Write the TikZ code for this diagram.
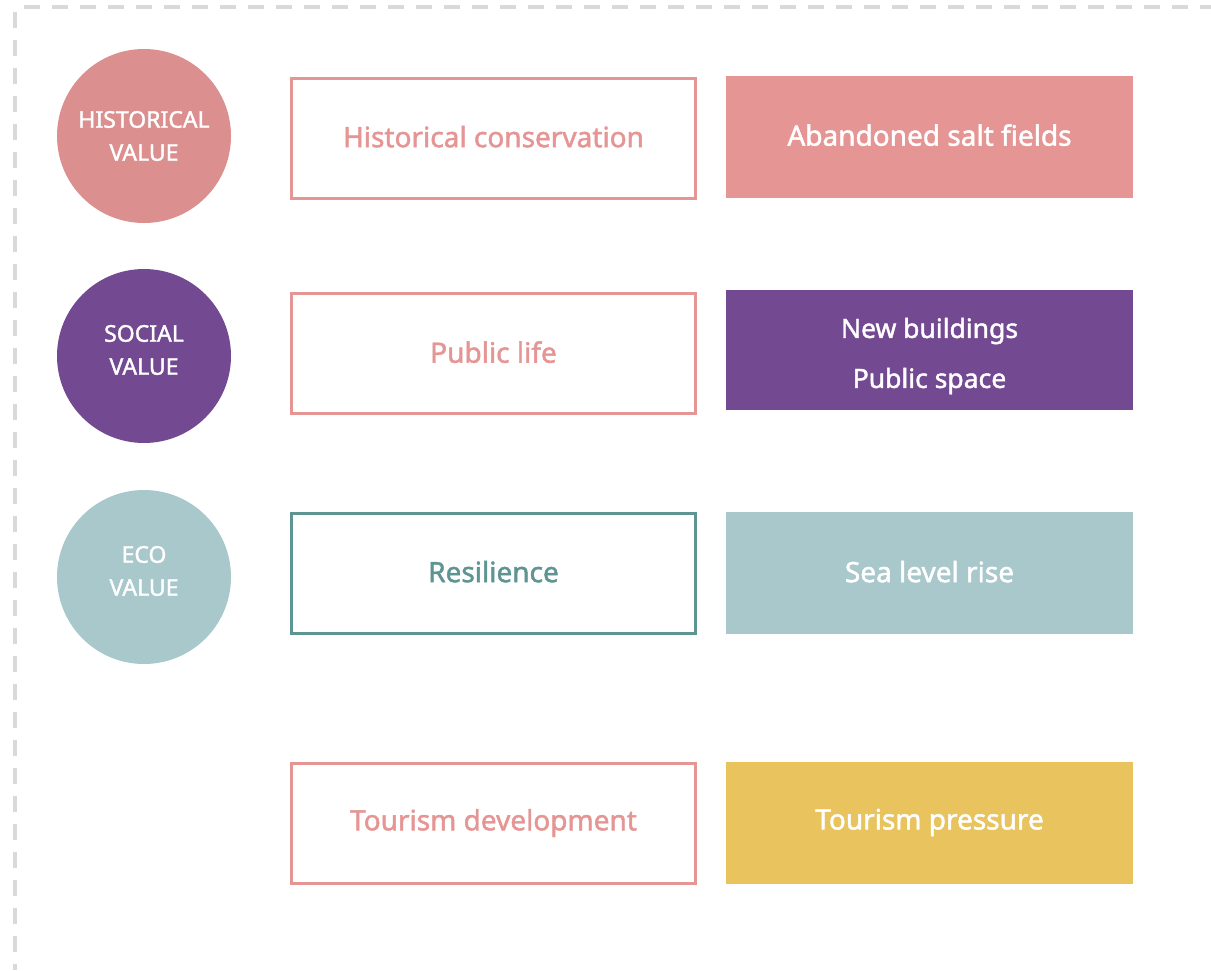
\documentclass[tikz,border=0pt]{standalone}
\usepackage{fontspec}
\setmainfont{Noto Sans}
\newfontfamily\semib{Noto Sans}[FakeBold=1.6]
\newcommand{\liftt}[2]{\raisebox{#1pt}{#2}}
\definecolor{histc}{HTML}{DC8F8F}
\definecolor{histf}{HTML}{E69595}
\definecolor{purp}{HTML}{734A91}
\definecolor{ecof}{HTML}{A8C8CB}
\definecolor{ecod}{HTML}{5E9592}
\definecolor{yel}{HTML}{E8C35E}
\definecolor{dashg}{HTML}{D9D9D9}
\tikzset{
  circ/.style={circle, minimum size=174pt, inner sep=0pt, text=white, font=\semib\fontsize{23}{32}\selectfont, align=center},
  obox/.style={draw=histf, line width=3pt, fill=white, minimum width=404pt, minimum height=120pt, inner sep=0pt, text=histf, font=\semib\fontsize{28}{32}\selectfont, align=center},
  fbox/.style={minimum width=407pt, minimum height=122pt, inner sep=0pt, text=white, font=\semib\fontsize{28}{32}\selectfont, align=center},
  ftext/.style={text=white, font=\semib\fontsize{26.5}{50}\selectfont, align=center, inner sep=0pt},
  ctext/.style={text=white, font=\semib\fontsize{23}{33}\selectfont, align=center, inner sep=0pt},
  border/.style={dashg, line width=4pt, dash pattern=on 16pt off 12pt}
}
\begin{document}
\begin{tikzpicture}[x=1pt,y=-1pt]
\useasboundingbox (0,0) rectangle (1211,970);
\coordinate (tl) at (24,7);
\coordinate (tr) at (1211,7);
\coordinate (lt) at (15,12);
\coordinate (lb) at (15,970);
\draw[border] (tl) -- (tr);
\draw[border] (lt) -- (lb);
% circles
\node[circ, fill=histc] (c1) at (144,136) {};
\node[ctext] (c1t) at (144,136) {HISTORICAL\\VALUE};
\node[circ, fill=purp] (c2) at (144,356) {};
\node[ctext] (c2t) at (144,350) {SOCIAL\\VALUE};
\node[circ, fill=ecof] (c3) at (144,577) {};
\node[ctext] (c3t) at (144,571) {ECO\\VALUE};
% outline boxes
\node[obox] (b1) at (493.5,138.5) {\liftt{4}{Historical conservation}};
\node[obox] (b2) at (493.5,353) {\liftt{2}{Public life}};
\node[obox, draw=ecod, text=ecod] (b3) at (493.5,573) {\liftt{3}{Resilience}};
\node[obox] (b4) at (493.5,823) {Tourism development};
% filled boxes
\node[fbox, fill=histf] (f1) at (929.5,137) {\liftt{4}{Abandoned salt fields}};
\node[fbox, fill=purp, minimum height=120pt] (f2) at (929.5,350) {};
\node[ftext] (f2t) at (929.5,356) {New buildings\\Public space};
\node[fbox, fill=ecof] (f3) at (929.5,573) {\liftt{3}{Sea level rise}};
\node[fbox, fill=yel] (f4) at (929.5,822.5) {Tourism pressure};
\end{tikzpicture}
\end{document}
